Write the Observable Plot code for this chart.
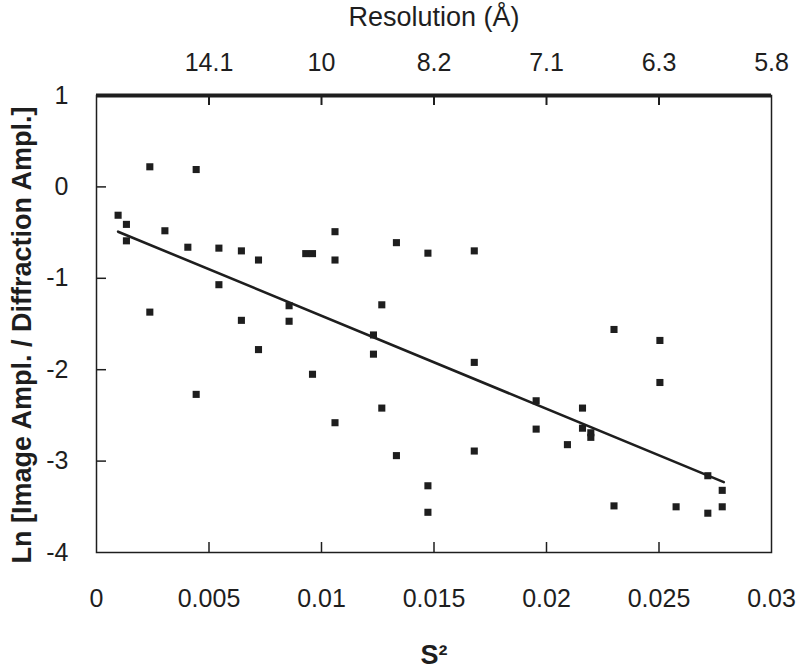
<!DOCTYPE html>
<html><head><meta charset="utf-8">
<script src="https://cdn.jsdelivr.net/npm/d3@7"></script>
<script src="https://cdn.jsdelivr.net/npm/@observablehq/plot@0.6"></script>
<style>body{margin:0;background:#fff} svg{display:block}</style>
</head><body><div id="chart"></div>
<script>
// measured points: x = S^2, y = Ln[Image Ampl. / Diffraction Ampl.]
const s2 = [0.00096, 0.00133, 0.00133, 0.00237, 0.00237, 0.00304, 0.00406, 0.00443, 0.00443, 0.00544,
  0.00544, 0.00644, 0.00644, 0.0072, 0.0072, 0.00856, 0.00856, 0.0093, 0.0096, 0.0096,
  0.0106, 0.0106, 0.0106, 0.01231, 0.01231, 0.01268, 0.01268, 0.01333, 0.01333, 0.01473,
  0.01473, 0.01473, 0.01679, 0.01679, 0.01679, 0.01954, 0.01954, 0.02093, 0.0216, 0.0216,
  0.02197, 0.02197, 0.0230, 0.0230, 0.02504, 0.02504, 0.02576, 0.02717, 0.02717, 0.02781, 0.02781];
const lnRatio = [-0.31, -0.41, -0.59, 0.22, -1.37, -0.48, -0.66, 0.19, -2.27, -0.67,
  -1.07, -0.70, -1.46, -0.80, -1.78, -1.30, -1.47, -0.73, -0.73, -2.05,
  -0.49, -0.80, -2.58, -1.62, -1.83, -1.29, -2.42, -0.61, -2.94, -0.725,
  -3.27, -3.56, -0.70, -1.92, -2.89, -2.34, -2.65, -2.82, -2.42, -2.64,
  -2.69, -2.74, -1.56, -3.49, -1.68, -2.14, -3.50, -3.16, -3.57, -3.32, -3.50];
// fitted line end points
const fitS2 = [0.00096, 0.02788];
const fitLn = [-0.49, -3.23];
// axes
const xTicks = [0, 0.005, 0.01, 0.015, 0.02, 0.025, 0.03];
const xTickLabels = ["0", "0.005", "0.01", "0.015", "0.02", "0.025", "0.03"];
const innerXTicks = [0.005, 0.01, 0.015, 0.02, 0.025];
const resTicks = [0.005, 0.01, 0.015, 0.02, 0.025, 0.03];
const resLabels = ["14.1", "10", "8.2", "7.1", "6.3", "5.8"];
const yTicks = [1, 0, -1, -2, -3, -4];
const yTickLabels = ["1", "0", "-1", "-2", "-3", "-4"];
const innerYTicks = [0, -1, -2, -3];
const xTitle = "S²";
const topTitle = "Resolution (Å)";
const yTitle = "Ln [Image Ampl. / Diffraction Ampl.]";

const points = s2.map((x, i) => ({x, y: lnRatio[i]}));
const fit = fitS2.map((x, i) => ({x, y: fitLn[i]}));
const xLab = new Map(xTicks.map((d, i) => [d, xTickLabels[i]]));
const resLab = new Map(resTicks.map((d, i) => [d, resLabels[i]]));
const yLab = new Map(yTicks.map((d, i) => [d, yTickLabels[i]]));
const ink = "#1e1e1e";
const font = "'Liberation Sans', Arial, Helvetica, sans-serif";

const chart = Plot.plot({
  width: 800, height: 672,
  marginLeft: 96, marginRight: 29, marginTop: 95, marginBottom: 120,
  style: {fontFamily: font, fontSize: "25px", color: ink, background: "#fff", overflow: "visible"},
  x: {domain: [0, 0.03]},
  y: {domain: [-4, 1]},
  marks: [
    Plot.axisX(xTicks, {anchor: "bottom", tickSize: 0, tickPadding: 37, tickFormat: d => xLab.get(d), label: null, fontSize: 25, fill: ink}),
    Plot.axisX(resTicks, {anchor: "top", tickSize: 0, tickPadding: 25, tickFormat: d => resLab.get(d), label: null, fontSize: 25, fill: ink}),
    Plot.axisY(yTicks, {anchor: "left", tickSize: 0, tickPadding: 28, tickFormat: d => yLab.get(d), label: null, fontSize: 25, fill: ink}),
    Plot.frame({stroke: ink, strokeWidth: 1.5}),
    Plot.ruleY([1], {stroke: ink, strokeWidth: 4}),
    Plot.tickX(innerXTicks, {x: d => d, insetTop: 447, stroke: ink, strokeWidth: 1.5}),
    Plot.tickX(innerXTicks, {x: d => d, insetBottom: 447, stroke: ink, strokeWidth: 2}),
    Plot.tickY(innerYTicks, {y: d => d, insetRight: 665, stroke: ink, strokeWidth: 1.5}),
    Plot.dot(points, {x: "x", y: "y", symbol: "square", r: 4, fill: ink, stroke: "none"}),
    Plot.line(fit, {x: "x", y: "y", stroke: ink, strokeWidth: 2.6}),
    Plot.text([topTitle], {frameAnchor: "top", dy: -78, fontSize: 27, lineAnchor: "middle", fill: ink}),
    Plot.text([xTitle], {frameAnchor: "bottom", dy: 103, fontSize: 27, fontWeight: "bold", lineAnchor: "middle", fill: ink}),
    Plot.text([yTitle], {frameAnchor: "left", textAnchor: "middle", dx: -74, dy: 11, rotate: -90, fontSize: 27, fontWeight: "bold", lineAnchor: "middle", fill: ink})
  ]
});
document.getElementById("chart").append(chart);
</script>
</body></html>
